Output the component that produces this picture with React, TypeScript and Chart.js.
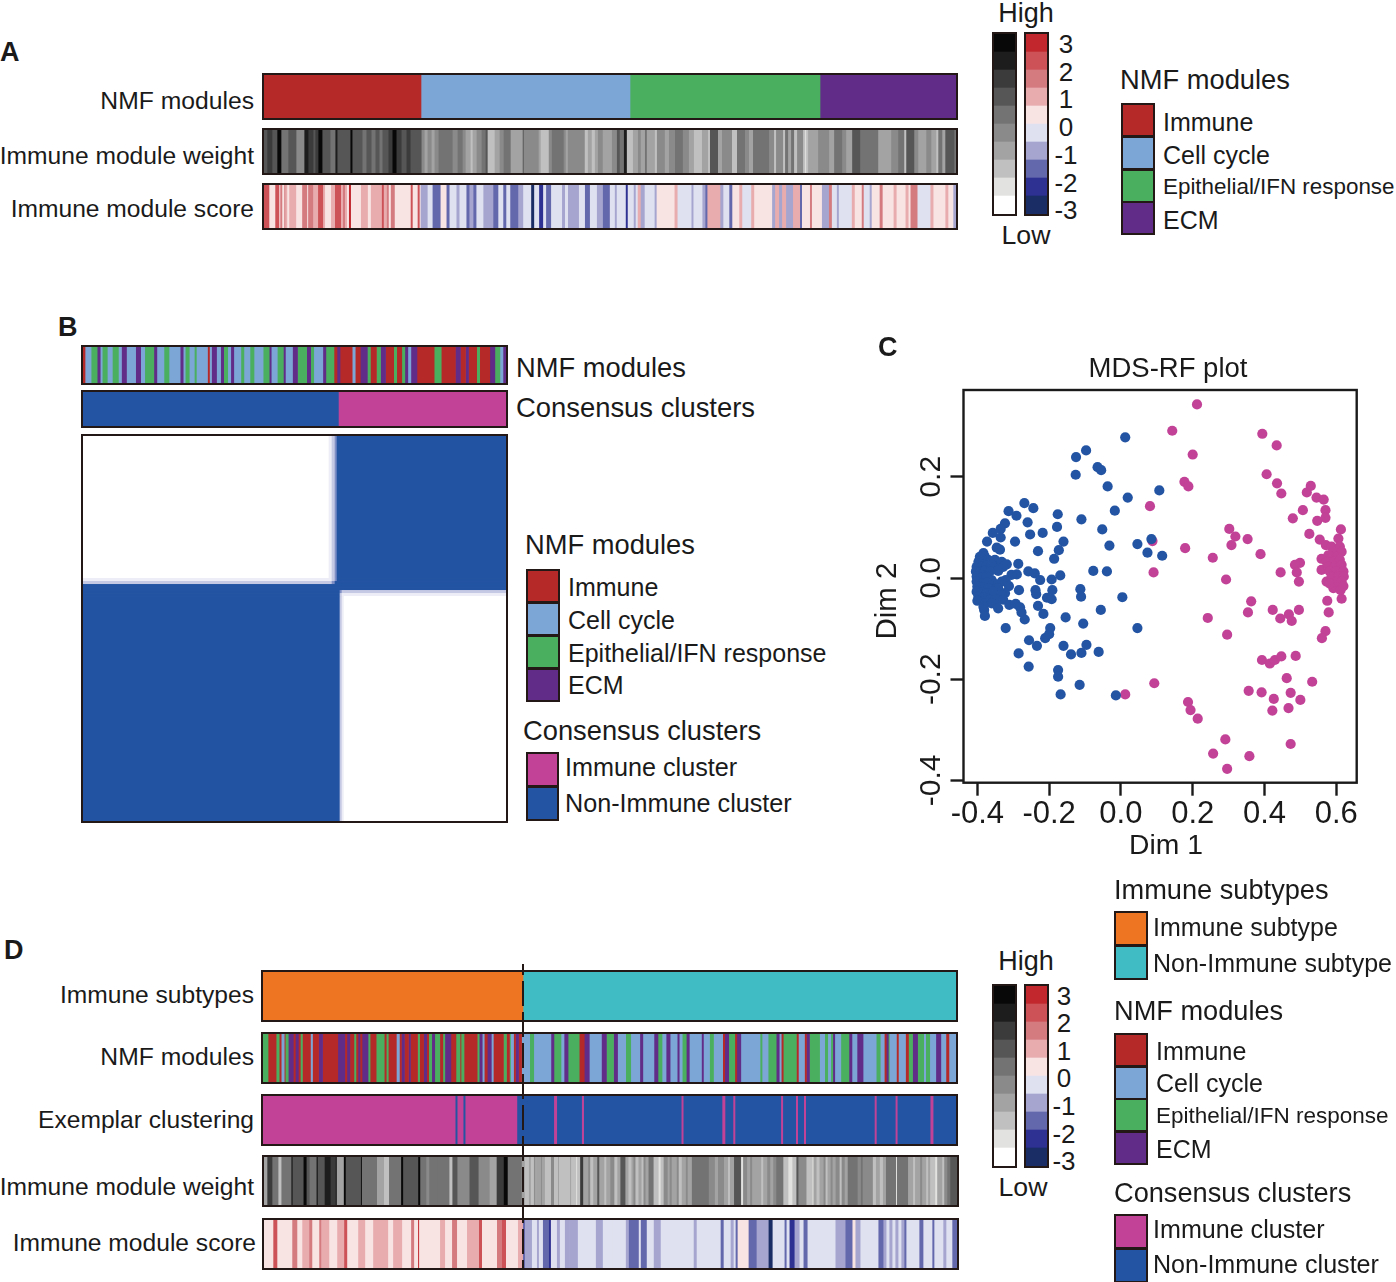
import React, { useEffect, useRef } from "react";
import { Chart, registerables } from "chart.js";
Chart.register(...registerables);

// ---- palettes ----
const moduleColors = ["#B52A29", "#7CA6D6", "#4AAF5F", "#612C88"];
const clusterColors = ["#C24297", "#2354A3"];
const subtypeColors = ["#EE7623", "#3FBCC4"];
const greyColors = ["#080808", "#1D1D1D", "#3B3B3B", "#565656", "#737373", "#8A8A8A", "#A3A3A3", "#C0C0C0", "#E2E2E0", "#FFFFFF"];
const scoreColors = ["#C1272D", "#CC5257", "#D47B80", "#E8ACAE", "#F9E4E4", "#DFE1F0", "#A5A5D0", "#6367AC", "#2E3192", "#1B2D65"];
const matrixColors = ["#FFFFFF", "#ECEDF6", "#C5C9E3", "#7F8FC6", "#2354A3"];

// ---- sample annotation tracks, written as [level, sample count, level, sample count, ...] ----
const aModules = [0,157, 1,209, 2,190, 3,136];
const aWeight = [3,3,2,5,3,5,0,4,4,7,3,8,5,8,1,4,2,5,3,2,2,3,0,4,3,8,4,5,1,2,3,13,0,2,3,10,4,4,3,5,4,4,3,4,4,3,3,6,2,4,0,4,2,5,3,5,2,4,3,11,
  5,3,6,3,5,4,6,3,5,4,4,14,5,5,4,5,5,3,6,5,7,2,6,4,5,5,4,4,3,2,7,7,6,5,5,4,4,7,6,12,3,1,5,15,6,2,7,8,5,3,4,12,5,2,6,2,5,17,7,3,6,4,7,3,6,3,5,5,6,9,
  5,5,3,3,4,4,1,3,
  7,6,6,5,5,3,6,4,4,2,6,8,7,2,5,8,6,4,5,6,4,8,5,6,6,5,7,8,6,6,7,2,3,8,6,4,5,10,7,5,4,8,5,4,6,4,4,16,5,5,7,2,5,7,7,2,4,3,6,3,4,3,7,3,5,6,7,2,8,1,7,2,6,10,5,11,6,5,4,8,5,4,6,6,3,8,4,18,6,13,5,7,4,6,7,2,3,8,5,4,6,8,5,5,6,5,7,2,4,4,6,3,3,9,4,2];
const aScore = [1,5,4,6,1,4,4,1,2,2,4,2,2,1,3,2,4,2,3,7,4,6,2,5,4,1,2,5,3,5,1,5,3,2,4,6,3,4,1,6,3,2,2,2,3,2,4,2,0,2,4,10,3,7,4,3,3,11,1,2,3,3,2,2,4,2,2,4,4,16,1,2,4,5,1,2,4,1,
  6,7,5,5,7,8,4,6,7,3,5,7,6,3,5,7,7,3,6,4,7,3,5,7,6,10,7,5,5,5,7,3,5,4,7,8,6,5,5,8,9,3,5,5,8,4,5,3,7,5,5,11,6,3,5,3,6,11,5,6,7,5,5,7,6,6,7,7,
  5,5,6,2,5,9,8,2,5,6,6,2,5,2,3,3,6,4,5,10,6,2,4,18,3,3,5,14,6,2,5,9,6,3,7,2,3,13,6,3,5,6,7,3,4,7,3,3,5,9,3,3,4,18,6,3,3,4,6,3,3,4,6,7,3,7,7,2,4,8,2,2,4,10,6,7,2,3,5,5,6,2,5,13,3,3,4,7,2,2,5,6,6,2,4,8,2,3,4,11,3,3,4,9,3,3,4,2,2,7,5,13,3,3,4,12,3,3,4,5,6,3];
const bModules = [0,2,1,6,2,6,3,3,1,2,2,5,1,5,2,6,1,3,3,5,1,9,3,5,1,4,2,9,3,3,1,7,2,5,1,11,3,3,1,2,2,4,1,5,2,2,1,11,0,2,1,2,3,5,1,4,3,3,2,4,1,3,3,3,1,7,2,3,1,6,2,4,1,9,2,6,3,2,1,6,2,6,3,2,1,7,3,5,2,9,3,4,2,3,1,9,3,3,2,8,0,3,3,3,0,12,1,3,0,5,3,7,2,3,0,6,2,4,3,5,0,8,2,3,0,5,2,3,3,3,1,3,3,6,0,17,2,7,0,14,3,5,0,5,3,3,0,8,2,3,0,10,3,5,2,5,1,3,3,3];
const bClusters = [1,256, 0,168];
const dSubtypes = [0,260, 1,433];
const dModules = [2,5,0,8,2,3,0,2,1,3,0,1,2,3,3,5,0,2,3,3,0,2,2,2,0,8,1,2,0,6,3,4,0,15,3,7,0,2,3,3,0,4,2,2,0,2,3,2,0,2,3,6,2,2,0,6,2,8,0,2,2,2,0,8,1,3,0,2,3,3,0,4,3,2,0,7,2,2,0,4,3,3,0,2,2,3,3,3,2,5,0,3,2,2,3,6,0,5,2,4,0,1,2,3,0,13,2,2,3,3,1,2,0,3,3,4,1,2,0,10,2,3,0,3,2,1,1,3,0,2,3,3,0,3,
  1,8,2,4,1,17,3,3,2,7,1,3,3,4,2,11,0,5,3,5,1,12,3,5,2,7,
  3,4,1,8,2,5,1,9,3,3,1,11,3,4,2,4,1,4,3,4,1,7,3,2,1,3,2,4,3,3,1,12,3,2,1,6,2,4,1,9,0,2,3,4,2,6,0,2,3,4,1,19,2,2,1,6,2,8,3,3,1,2,0,2,2,13,0,2,1,6,0,2,3,3,2,10,1,5,2,3,1,3,2,2,3,2,1,6,2,8,3,3,1,5,3,6,1,13,2,4,1,4,0,2,3,2,2,1,1,7,0,2,1,7,0,3,2,4,3,5,2,6,1,2,2,4,1,6,3,5,1,5,0,3,1,7];
const dExemplar = [0,193,1,2,0,6,1,2,0,52,1,37,0,3,1,25,0,2,1,98,0,2,1,39,0,3,1,8,0,2,1,46,0,2,1,13,0,2,1,6,0,2,1,69,0,2,1,19,0,2,1,33,0,3,1,23];
const dWeight = [6,3,2,5,4,6,7,3,4,10,0,1,3,11,0,3,3,3,4,7,0,1,3,7,1,6,2,5,0,1,6,7,0,2,3,15,0,1,4,15,6,7,7,5,4,12,0,2,3,15,0,2,4,6,5,3,4,8,4,12,7,3,3,5,5,12,3,9,5,11,6,7,2,7,0,4,4,14,
  6,3,7,4,6,2,7,3,5,1,6,2,6,4,5,1,6,3,7,6,5,3,7,4,6,1,7,5,7,6,6,1,7,5,8,1,7,3,2,3,6,5,5,2,7,3,6,4,3,2,6,5,7,2,6,4,5,4,
  7,3,6,3,3,5,6,3,7,3,6,2,5,2,7,3,6,3,7,2,5,2,6,3,4,5,7,5,8,2,7,3,5,4,6,2,5,2,6,5,5,2,7,3,6,4,5,2,6,4,4,17,5,6,6,3,5,6,6,4,7,2,6,4,3,7,8,2,5,4,6,3,5,2,6,4,6,5,7,2,6,4,5,3,6,3,5,3,4,7,7,5,8,4,7,4,3,2,5,8,7,6,8,1,6,3,7,3,6,4,5,2,7,2,6,3,5,2,6,3,5,4,7,2,5,3,6,3,4,10,5,3,4,2,5,10,7,3,6,4,7,3,6,3,4,10,8,1,4,11,6,5,7,2,6,5,5,2,6,4,7,2,6,2,7,5,8,2,6,5,7,2,5,3,4,3,3,7];
const dScore = [4,9,1,4,4,15,2,5,4,5,3,7,2,3,4,7,2,2,3,8,4,8,3,7,1,3,4,11,3,7,4,8,3,15,4,5,3,9,4,9,2,3,4,4,0,1,4,21,3,5,4,7,2,5,4,10,3,12,1,3,4,15,2,5,1,4,4,12,3,5,
  7,2,6,7,5,5,6,2,5,4,7,6,8,2,5,6,6,3,5,5,6,5,6,8,5,18,6,7,5,10,
  5,13,6,3,7,10,5,2,7,6,5,7,6,7,5,33,6,3,5,24,7,3,5,7,6,3,5,2,7,2,4,11,7,8,6,12,9,4,5,12,7,2,5,3,8,5,6,5,5,4,7,4,5,28,6,10,7,7,4,3,6,5,5,18,7,5,6,3,5,3,6,3,5,3,6,3,5,3,6,3,7,2,5,13,7,4,5,9,7,2,5,9,6,3,5,6,7,5];
const greyBar = [9,1,8,1,7,1,6,1,5,1,4,1,3,1,2,1,1,1,0,1];
const scoreBar = [9,1,8,1,7,1,6,1,5,1,4,1,3,1,2,1,1,1,0,1];
const scoreTicks = ["3", "2", "1", "0", "-1", "-2", "-3"];

// ---- consensus matrix: columns in groups, rows in bands, bottom band first ----
const matrixColumnCounts = [246, 3, 3, 2, 3, 2, 2, 162];
const matrixRowCounts = [224, 3, 3, 3, 3, 3, 3, 142];
const matrixLevels = [
  [4, 4, 4, 4, 4, 2, 1, 0],
  [4, 4, 4, 4, 4, 2, 1, 1],
  [4, 4, 4, 4, 4, 3, 2, 2],
  [4, 4, 4, 4, 4, 4, 4, 4],
  [4, 4, 4, 4, 4, 4, 4, 4],
  [2, 2, 3, 4, 4, 4, 4, 4],
  [1, 1, 2, 3, 4, 4, 4, 4],
  [0, 1, 2, 3, 4, 4, 4, 4],
];

// ---- MDS-RF plot (Dim 1, Dim 2) ----
const nonImmunePoints = [
  [.012,.278],[-.097,.252],[-.125,.239],[-.065,.219],[-.055,.213],[-.126,.204],[-.037,.181],[.019,.159],[-.269,.148],[-.244,.138],[-.313,.132],[-.017,.133],[-.291,.123],[-.176,.126],[-.110,.116],[-.260,.110],[-.323,.108],[-.178,.101],[-.335,.097],[-.052,.096],[-.357,.089],[-.218,.089],[-.253,.086],[-.335,.080],[-.373,.072],[-.295,.072],[-.160,.072],[-.032,.064],[.046,.067],[-.346,.060],[-.337,.056],[-.231,.053],[-.173,.055],[-.186,.038],[-.286,.028],[-.077,.014],[-.039,.013],[-.169,.005],[-.258,.013],[-.240,.009],[-.290,.007],[-.305,.006],[-.225,-.004],[-.193,-.003],[-.321,-.004],[-.312,-.016],[-.113,-.022],[-.284,-.024],[-.238,-.024],[-.191,-.024],[-.111,-.037],[-.236,-.032],[.004,-.038],[-.206,-.039],[-.193,-.042],[-.231,-.055],[-.056,-.063],[-.216,-.071],[-.154,-.078],[-.268,-.082],[-.105,-.090],[-.321,-.099],[-.197,-.099],[.046,-.099],[-.200,-.111],[-.211,-.119],[-.256,-.123],[-.234,-.134],[-.160,-.134],[-.096,-.132],[-.139,-.151],[-.110,-.148],[-.062,-.146],[-.285,-.149],[-.257,-.175],[-.175,-.182],[-.175,-.195],[-.115,-.211],[-.168,-.230],[-.014,-.232],[.107,.173],[.085,.077],[.074,.050],[.115,.044],
  [-.383,.049],[-.393,.042],[-.379,.042],[-.397,.032],[-.383,.032],[-.370,.036],[-.351,.036],[-.332,.032],[-.318,.027],[-.402,.022],[-.388,.022],[-.374,.024],[-.360,.026],[-.342,.019],[-.328,.022],[-.404,.013],[-.393,.011],[-.379,.014],[-.365,.013],[-.342,.014],[-.402,.003],[-.388,.001],[-.374,.003],[-.360,-.004],[-.332,-.007],[-.402,-.007],[-.388,-.011],[-.374,-.009],[-.351,-.012],[-.400,-.017],[-.385,-.018],[-.370,-.020],[-.342,-.020],[-.323,-.030],[-.402,-.027],[-.388,-.029],[-.374,-.030],[-.356,-.027],[-.332,-.034],[-.397,-.037],[-.383,-.038],[-.365,-.043],[-.346,-.043],[-.328,-.043],[-.400,-.045],[-.379,-.050],[-.360,-.050],[-.311,-.053],[-.293,-.051],[-.281,-.058],[-.342,-.060],[-.381,-.063],[-.379,-.075],[-.277,-.068],[-.383,-.057],
];
const immunePoints = [
  [.212,.343],[.143,.291],[.200,.244],[.394,.285],[.434,.262],[.406,.205],[.177,.190],[.188,.181],[.435,.187],[.447,.167],[.529,.182],[.518,.169],[.545,.159],[.565,.155],[.081,.142],[.570,.134],[.507,.134],[.479,.118],[.547,.113],[.570,.119],[.302,.097],[.613,.096],[.319,.082],[.353,.077],[.525,.087],[.554,.076],[.088,.073],[.308,.065],[.179,.059],[.256,.040],[.389,.047],[.499,.030],[.485,.026],[.490,.011],[.445,.011],[.091,.011],[.496,-.007],[.293,-.003],[.363,-.046],[.575,-.045],[.354,-.068],[.423,-.063],[.444,-.080],[.468,-.072],[.476,-.085],[.496,-.063],[.579,-.068],[.242,-.079],[.296,-.112],[.570,-.105],[.560,-.119],[.615,-.041],[.393,-.162],[.415,-.169],[.429,-.162],[.447,-.155],[.487,-.154],[.462,-.198],[.533,-.205],[.356,-.223],[.392,-.226],[.473,-.227],[.426,-.239],[.500,-.241],[.422,-.262],[.467,-.257],[.093,-.208],[.012,-.230],[.187,-.245],[.194,-.261],[.214,-.278],[.291,-.319],[.257,-.347],[.358,-.352],[.473,-.328],[.296,-.377],
  [.559,.038],[.559,.016],[.571,.065],[.587,.062],[.606,.078],[.610,.062],[.592,.052],[.615,.052],[.578,.045],[.601,.042],[.573,.032],[.592,.032],[.610,.036],[.578,.022],[.596,.022],[.615,.026],[.582,.013],[.601,.013],[.620,.013],[.573,-.007],[.587,.003],[.606,.003],[.621,.003],[.592,-.020],[.601,-.007],[.615,-.007],[.612,-.024],[.620,-.016],[.582,-.011],
];

// ---- text ----
const moduleNames = ["Immune", "Cell cycle", "Epithelial/IFN response", "ECM"];
const clusterNames = ["Immune cluster", "Non-Immune cluster"];
const subtypeNames = ["Immune subtype", "Non-Immune subtype"];

const INK = "#231815";
const FONT = "'Liberation Sans', Arial, sans-serif";

type TP = { x: number; cy: number; size: number; bold?: boolean; anchor?: "l" | "r" | "c"; rot?: boolean; children: React.ReactNode };
function T({ x, cy, size, bold, anchor = "l", rot, children }: TP) {
  const tx = anchor === "l" ? "0" : anchor === "r" ? "-100%" : "-50%";
  return (
    <div style={{ position: "absolute", left: x, top: cy, fontFamily: FONT, fontSize: size, fontWeight: bold ? 700 : 400, lineHeight: 1, whiteSpace: "nowrap", color: "#1a1a1a", transform: `translate(${tx},-50%)${rot ? " rotate(-90deg)" : ""}`, zIndex: 5 }}>
      {children}
    </div>
  );
}

type SP = { x: number; y: number; w: number; h: number; runs: number[]; colors: string[]; vertical?: boolean; border?: number; soft?: boolean };
function Strip({ x, y, w, h, runs, colors, vertical, border = 2, soft = true }: SP) {
  const ref = useRef<HTMLCanvasElement>(null);
  useEffect(() => {
    const datasets: any[] = [];
    let total = 0;
    for (let i = 0; i < runs.length; i += 2) {
      total += runs[i + 1];
      datasets.push({ data: [runs[i + 1]], backgroundColor: colors[runs[i]], barPercentage: 1, categoryPercentage: 1, borderWidth: 0 });
    }
    const value = { display: false, stacked: true, min: 0, max: total };
    const band = { display: false, stacked: true };
    const chart = new Chart(ref.current!, {
      type: "bar",
      data: { labels: ["track"], datasets },
      options: {
        indexAxis: vertical ? "x" : "y",
        responsive: false,
        animation: false,
        events: [],
        layout: { padding: 0 },
        plugins: { legend: { display: false }, tooltip: { enabled: false }, title: { display: false } },
        scales: vertical ? { x: band, y: value } : { x: value, y: band },
      },
    } as any);
    return () => chart.destroy();
  }, []);
  const iw = w - 2 * border;
  const ih = h - 2 * border;
  return (
    <div style={{ position: "absolute", left: x, top: y, width: w, height: h, boxSizing: "border-box", border: `${border}px solid ${INK}`, background: "#fff", zIndex: 2, overflow: "hidden" }}>
      <canvas ref={ref} width={iw} height={ih} style={{ display: "block", width: iw, height: ih, filter: soft ? "blur(0.5px)" : "none" }} />
    </div>
  );
}

function Matrix({ x, y, w, h }: { x: number; y: number; w: number; h: number }) {
  const ref = useRef<HTMLCanvasElement>(null);
  useEffect(() => {
    const groupOf: number[] = [];
    matrixColumnCounts.forEach((n, g) => { for (let i = 0; i < n; i++) groupOf.push(g); });
    const datasets = matrixRowCounts.map((rows, band) => ({
      data: groupOf.map(() => rows),
      backgroundColor: groupOf.map((g) => matrixColors[matrixLevels[band][g]]),
      barPercentage: 1,
      categoryPercentage: 1,
      borderWidth: 0,
    }));
    const rowsTotal = matrixRowCounts.reduce((a, b) => a + b, 0);
    const chart = new Chart(ref.current!, {
      type: "bar",
      data: { labels: groupOf.map((_, i) => String(i)), datasets },
      options: {
        responsive: false,
        animation: false,
        events: [],
        plugins: { legend: { display: false }, tooltip: { enabled: false } },
        scales: { x: { display: false, stacked: true }, y: { display: false, stacked: true, min: 0, max: rowsTotal } },
      },
    } as any);
    return () => chart.destroy();
  }, []);
  const iw = w - 4;
  const ih = h - 4;
  return (
    <div style={{ position: "absolute", left: x, top: y, width: w, height: h, boxSizing: "border-box", border: `2px solid ${INK}`, zIndex: 2 }}>
      <canvas ref={ref} width={iw} height={ih} style={{ display: "block", width: iw, height: ih }} />
    </div>
  );
}

const boxPlugin = {
  id: "boxPlugin",
  afterDraw(chart: any) {
    const { ctx, chartArea: a } = chart;
    ctx.save();
    ctx.strokeStyle = "#1a1a1a";
    ctx.lineWidth = 2.4;
    ctx.strokeRect(a.left, a.top, a.right - a.left, a.bottom - a.top);
    ctx.restore();
  },
};

function Scatter() {
  const ref = useRef<HTMLCanvasElement>(null);
  useEffect(() => {
    const toXY = (p: number[][]) => p.map(([x, y]) => ({ x, y }));
    const dot = { pointRadius: 5.1, pointBorderWidth: 0, showLine: false };
    const grid = { display: true, drawOnChartArea: false, drawTicks: true, tickLength: 13, tickWidth: 2.4, tickColor: "#1a1a1a" };
    const chart = new Chart(ref.current!, {
      type: "scatter",
      data: {
        datasets: [
          { label: "Non-Immune cluster", data: toXY(nonImmunePoints), pointBackgroundColor: clusterColors[1], ...dot },
          { label: "Immune cluster", data: toXY(immunePoints), pointBackgroundColor: clusterColors[0], ...dot },
        ],
      },
      options: {
        responsive: false,
        animation: false,
        events: [],
        layout: { padding: { top: 50, right: 17.3, left: 0, bottom: 0 } },
        plugins: { legend: { display: false }, tooltip: { enabled: false } },
        scales: {
          x: {
            type: "linear",
            min: -0.4386,
            max: 0.657,
            border: { display: false },
            grid,
            afterFit: (s: any) => { s.height = 87.3; },
            ticks: { stepSize: 0.2, includeBounds: false, color: "#1a1a1a", padding: 0, maxRotation: 0, font: { family: FONT, size: 31 }, callback: (v: any) => Number(v).toFixed(1) },
          },
          y: {
            type: "linear",
            min: -0.4045,
            max: 0.3715,
            border: { display: false },
            grid,
            afterFit: (s: any) => { s.width = 99.5; },
            ticks: { stepSize: 0.2, includeBounds: false, color: "#1a1a1a", padding: -7, minRotation: 90, maxRotation: 90, crossAlign: "center", font: { family: FONT, size: 30 }, callback: (v: any) => Number(v).toFixed(1) },
          },
        },
      },
      plugins: [boxPlugin],
    } as any);
    return () => chart.destroy();
  }, []);
  return <canvas ref={ref} width={510} height={530} style={{ position: "absolute", left: 864, top: 340, width: 510, height: 530, zIndex: 3 }} />;
}

function Swatch({ x, y, w, h, color }: { x: number; y: number; w: number; h: number; color: string }) {
  return <div style={{ position: "absolute", left: x, top: y, width: w, height: h, boxSizing: "border-box", background: color, border: `2px solid ${INK}` }} />;
}

function ColorBars({ gx, gw, rx, rw, y, h, high, low, hx, lx, tickX, tickY }: any) {
  return (
    <>
      <Strip x={gx} y={y} w={gw} h={h} runs={greyBar} colors={greyColors} vertical />
      <Strip x={rx} y={y} w={rw} h={h} runs={scoreBar} colors={scoreColors} vertical />
      <T x={hx} cy={high} size={27} anchor="c">High</T>
      <T x={lx} cy={low} size={26.7} anchor="c">Low</T>
      {scoreTicks.map((t, i) => (
        <T key={t} x={tickX} cy={tickY[i]} size={26} anchor="c">{t}</T>
      ))}
    </>
  );
}

function ModuleLegend({ sx, sw, tx, tops, h, cys, epiSize }: any) {
  return (
    <>
      {moduleNames.map((n, i) => (
        <React.Fragment key={n}>
          <Swatch x={sx} y={tops[i]} w={sw} h={h} color={moduleColors[i]} />
          <T x={tx} cy={cys[i]} size={i === 2 ? epiSize : 25}>{n}</T>
        </React.Fragment>
      ))}
    </>
  );
}

export default function App() {
  return (
    <div style={{ position: "absolute", left: 0, top: 0, width: 1396, height: 1282, background: "#fff", overflow: "hidden" }}>
      {/* Panel A */}
      <T x={0} cy={52} size={27} bold>A</T>
      <T x={254} cy={101} size={24.7} anchor="r">NMF modules</T>
      <T x={254} cy={156} size={24.6} anchor="r">Immune module weight</T>
      <T x={254} cy={209} size={24.6} anchor="r">Immune module score</T>
      <Strip x={262} y={73} w={696} h={47} runs={aModules} colors={moduleColors} />
      <Strip x={262} y={128} w={696} h={47} runs={aWeight} colors={greyColors} />
      <Strip x={262} y={183} w={696} h={47} runs={aScore} colors={scoreColors} />
      <ColorBars gx={992} gw={25} rx={1024} rw={25} y={32} h={184} high={13} low={235} hx={1026} lx={1026} tickX={1066} tickY={[44, 72, 99, 127, 155, 183, 210]} />
      <T x={1120} cy={80} size={27.3}>NMF modules</T>
      <ModuleLegend sx={1121} sw={34} tx={1163} tops={[103, 136, 169, 201]} h={34} cys={[122, 155, 187, 220]} epiSize={22.4} />

      {/* Panel B */}
      <T x={58} cy={327} size={27} bold>B</T>
      <Strip x={81} y={345} w={427} h={40} runs={bModules} colors={moduleColors} />
      <Strip x={81} y={390} w={427} h={38} runs={bClusters} colors={clusterColors} />
      <Matrix x={81} y={434} w={427} h={389} />
      <T x={516} cy={368} size={27.3}>NMF modules</T>
      <T x={516} cy={408} size={27.4}>Consensus clusters</T>
      <T x={525} cy={545} size={27.3}>NMF modules</T>
      <ModuleLegend sx={526} sw={34} tx={568} tops={[569, 602, 635, 668]} h={34} cys={[587, 620, 653, 685]} epiSize={25} />
      <T x={523} cy={731} size={27.3}>Consensus clusters</T>
      {clusterNames.map((n, i) => (
        <React.Fragment key={n}>
          <Swatch x={526} y={752 + i * 34} w={33} h={35} color={clusterColors[i]} />
          <T x={565} cy={768 + i * 36} size={25.2}>{n}</T>
        </React.Fragment>
      ))}

      {/* Panel C */}
      <T x={878} cy={347} size={27} bold>C</T>
      <T x={1168} cy={368} size={27.5} anchor="c">MDS-RF plot</T>
      <Scatter />
      <T x={1166} cy={844} size={28.3} anchor="c">Dim 1</T>
      <T x={886} cy={601} size={29.5} anchor="c" rot>Dim 2</T>

      {/* Panel D */}
      <T x={4} cy={950} size={27} bold>D</T>
      <T x={254} cy={995} size={24.6} anchor="r">Immune subtypes</T>
      <T x={254} cy={1057} size={24.7} anchor="r">NMF modules</T>
      <T x={254} cy={1120} size={24.6} anchor="r">Exemplar clustering</T>
      <T x={254} cy={1187} size={24.6} anchor="r">Immune module weight</T>
      <T x={256} cy={1243} size={24.6} anchor="r">Immune module score</T>
      <Strip x={261} y={970} w={697} h={52} runs={dSubtypes} colors={subtypeColors} />
      <Strip x={261} y={1032} w={697} h={52} runs={dModules} colors={moduleColors} />
      <Strip x={261} y={1094} w={697} h={52} runs={dExemplar} colors={clusterColors} />
      <Strip x={262} y={1155} w={697} h={52} runs={dWeight} colors={greyColors} />
      <Strip x={262} y={1218} w={697} h={52} runs={dScore} colors={scoreColors} />
      <div style={{ position: "absolute", left: 522, top: 964, width: 2, height: 306, zIndex: 4, background: `repeating-linear-gradient(to bottom, ${INK} -14px, ${INK} 11px, transparent 11px, transparent 17px)` }} />
      <ColorBars gx={992} gw={25} rx={1024} rw={25} y={984} h={184} high={961} low={1187} hx={1026} lx={1023} tickX={1064} tickY={[996, 1023, 1051, 1078, 1106, 1134, 1161]} />
      <T x={1114} cy={890} size={27.2}>Immune subtypes</T>
      {subtypeNames.map((n, i) => (
        <React.Fragment key={n}>
          <Swatch x={1114} y={911 + i * 33.5} w={34} h={35} color={subtypeColors[i]} />
          <T x={1153} cy={927 + i * 36} size={25}>{n}</T>
        </React.Fragment>
      ))}
      <T x={1114} cy={1011} size={27.2}>NMF modules</T>
      <ModuleLegend sx={1114} sw={34} tx={1156} tops={[1033, 1066, 1098, 1131]} h={34} cys={[1051, 1083, 1116, 1149]} epiSize={22.5} />
      <T x={1114} cy={1193} size={27.2}>Consensus clusters</T>
      {clusterNames.map((n, i) => (
        <React.Fragment key={n + "d"}>
          <Swatch x={1114} y={1214 + i * 34} w={34} h={35} color={clusterColors[i]} />
          <T x={1153} cy={1230 + i * 35} size={25.1}>{n}</T>
        </React.Fragment>
      ))}
    </div>
  );
}
